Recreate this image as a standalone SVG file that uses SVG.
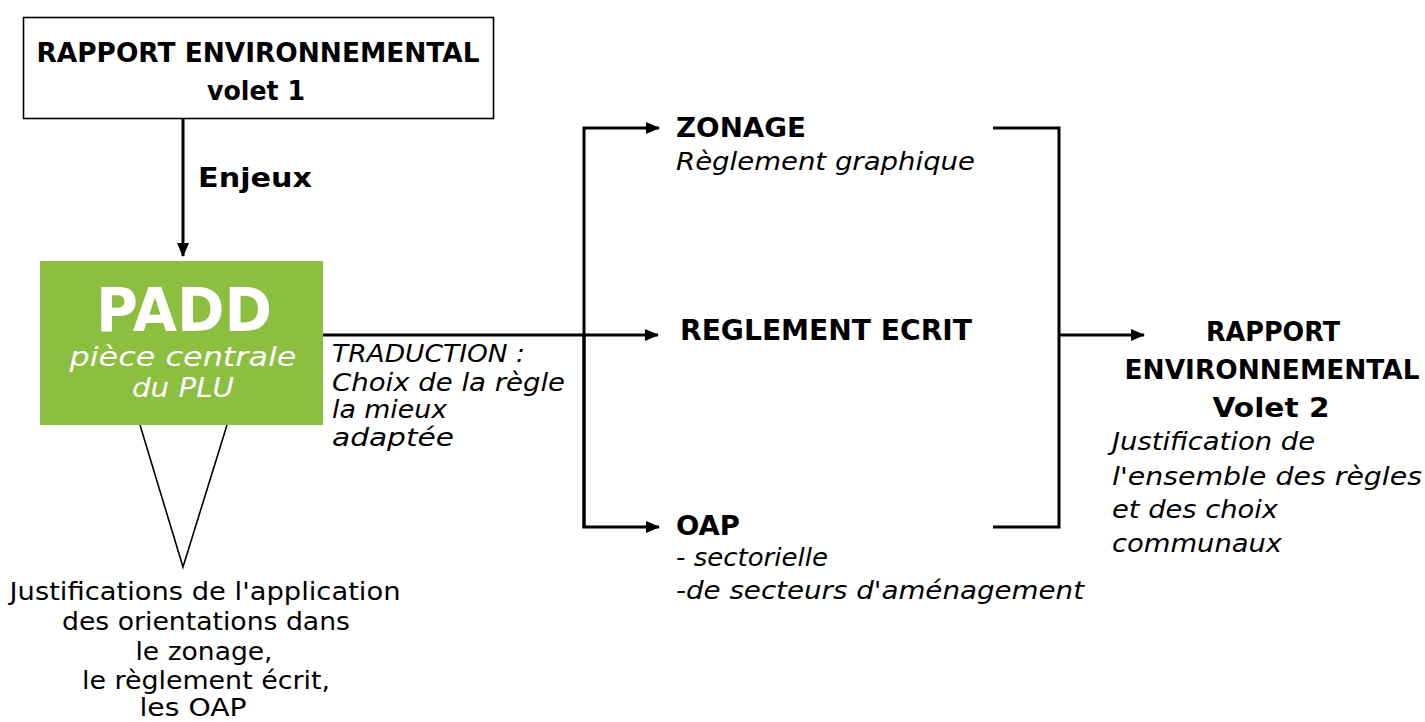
<svg xmlns="http://www.w3.org/2000/svg" width="1425" height="722" viewBox="0 0 1425 722">
<defs>
<marker id="arr" markerUnits="userSpaceOnUse" markerWidth="16" markerHeight="14" refX="13" refY="6" orient="auto">
<path d="M0,0 L14,6 L0,12 Z" fill="#000"/>
</marker>
<style>
text{font-family:"DejaVu Sans","Liberation Sans",sans-serif;fill:#000}
.b{font-weight:bold;font-size:27px}
.i{font-style:italic;font-size:24px}
.n{font-size:24px}
.w{fill:#fff}
.ln{stroke:#000;stroke-width:3;fill:none}
.thin{stroke:#000;stroke-width:1.6;fill:none}
</style>
</defs>
<rect width="1425" height="722" fill="#fff"/>
<g id="connectors">
<line class="ln" x1="183" y1="118" x2="183" y2="256" marker-end="url(#arr)"/>
<line class="ln" x1="323" y1="335" x2="658" y2="335" marker-end="url(#arr)"/>
<path class="ln" d="M584,528 L584,128 L659,128" marker-end="url(#arr)"/>
<path class="ln" d="M584,335 L584,527 L659,527" marker-end="url(#arr)"/>
<polyline class="ln" points="993,128 1059,128 1059,527 993,527"/>
<line class="ln" x1="1059" y1="335" x2="1144" y2="335" marker-end="url(#arr)"/>
<polyline class="thin" points="140,425 183,567 227,425"/>
</g>
<g id="n-rapport1">
<rect x="23.5" y="17.5" width="470" height="101" fill="#fff" stroke="#000" stroke-width="1.6"/>
<text class="b" x="258" y="62" text-anchor="middle" textLength="443" lengthAdjust="spacingAndGlyphs">RAPPORT ENVIRONNEMENTAL</text>
<text class="b" x="256" y="100" text-anchor="middle" textLength="98" lengthAdjust="spacingAndGlyphs">volet 1</text>
</g>
<g id="l-enjeux">
<text class="b" x="198" y="187" font-size="29" textLength="114" lengthAdjust="spacingAndGlyphs">Enjeux</text>
</g>
<g id="n-padd">
<rect x="40" y="261" width="283" height="164" fill="#8CBE40"/>
<text class="b w" x="184" y="331" text-anchor="middle" style="font-size:60px" textLength="176" lengthAdjust="spacingAndGlyphs">PADD</text>
<text class="i w" x="183" y="366" text-anchor="middle" style="font-size:26px" textLength="227" lengthAdjust="spacingAndGlyphs">pièce centrale</text>
<text class="i w" x="183" y="397" text-anchor="middle" style="font-size:26px" textLength="102" lengthAdjust="spacingAndGlyphs">du PLU</text>
</g>
<g id="l-traduction">
<text class="i" x="332" y="362" textLength="193" lengthAdjust="spacingAndGlyphs">TRADUCTION :</text>
<text class="i" x="332" y="391" textLength="233" lengthAdjust="spacingAndGlyphs">Choix de la règle</text>
<text class="i" x="332" y="418" textLength="115" lengthAdjust="spacingAndGlyphs">la mieux</text>
<text class="i" x="332" y="446" textLength="122" lengthAdjust="spacingAndGlyphs">adaptée</text>
</g>
<g id="n-justif">
<text class="n" x="205" y="600" text-anchor="middle" textLength="391" lengthAdjust="spacingAndGlyphs">Justifications de l'application</text>
<text class="n" x="206" y="630" text-anchor="middle" textLength="288" lengthAdjust="spacingAndGlyphs">des orientations dans</text>
<text class="n" x="204" y="660" text-anchor="middle" textLength="137" lengthAdjust="spacingAndGlyphs">le zonage,</text>
<text class="n" x="206" y="689" text-anchor="middle" textLength="248" lengthAdjust="spacingAndGlyphs">le règlement écrit,</text>
<text class="n" x="193" y="716" text-anchor="middle" textLength="107" lengthAdjust="spacingAndGlyphs">les OAP</text>
</g>
<g id="n-zonage">
<text class="b" x="676" y="137" textLength="130" lengthAdjust="spacingAndGlyphs">ZONAGE</text>
<text class="i" x="676" y="170" textLength="299" lengthAdjust="spacingAndGlyphs">Règlement graphique</text>
</g>
<g id="n-reglement">
<text class="b" x="680" y="340" style="font-size:29px" textLength="292" lengthAdjust="spacingAndGlyphs">REGLEMENT ECRIT</text>
</g>
<g id="n-oap">
<text class="b" x="676" y="535" textLength="64" lengthAdjust="spacingAndGlyphs">OAP</text>
<text class="i" x="676" y="566" textLength="152" lengthAdjust="spacingAndGlyphs">- sectorielle</text>
<text class="i" x="676" y="599" textLength="408" lengthAdjust="spacingAndGlyphs">-de secteurs d'aménagement</text>
</g>
<g id="n-rapport2">
<text class="b" x="1273" y="341" text-anchor="middle" textLength="134" lengthAdjust="spacingAndGlyphs">RAPPORT</text>
<text class="b" x="1272" y="379" text-anchor="middle" textLength="295" lengthAdjust="spacingAndGlyphs">ENVIRONNEMENTAL</text>
<text class="b" x="1271" y="417" text-anchor="middle" textLength="117" lengthAdjust="spacingAndGlyphs">Volet 2</text>
<text class="i" x="1112" y="450" textLength="203" lengthAdjust="spacingAndGlyphs">Justification de</text>
<text class="i" x="1112" y="485" textLength="310" lengthAdjust="spacingAndGlyphs">l'ensemble des règles</text>
<text class="i" x="1112" y="518" textLength="166" lengthAdjust="spacingAndGlyphs">et des choix</text>
<text class="i" x="1112" y="552" textLength="170" lengthAdjust="spacingAndGlyphs">communaux</text>
</g>
</svg>
